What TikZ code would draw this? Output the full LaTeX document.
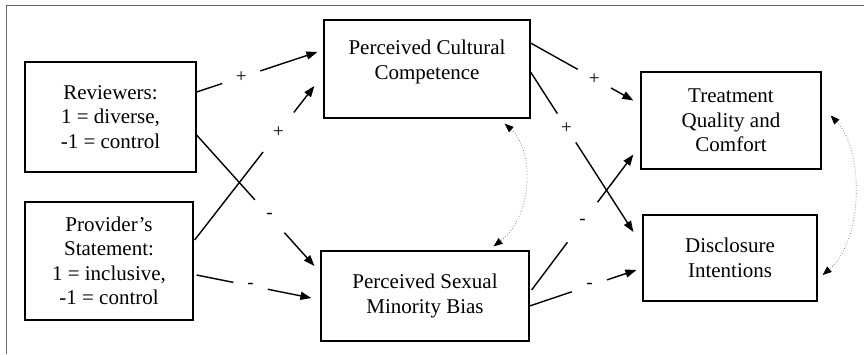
\documentclass[tikz,border=0pt]{standalone}
\usepackage{fontspec}
\setmainfont{Liberation Serif}
\usetikzlibrary{arrows.meta}

\colorlet{frame edge}{black!60}
\colorlet{link dots}{black!55}
\tikzset{
  box/.style={draw=black, line width=1.2pt, align=center, inner sep=0pt,
    font=\fontsize{21}{24.5}\selectfont},
  arrow/.style={draw, line width=1.4pt, -{Triangle[length=11pt,width=8pt]}},
  sign/.style={circle, fill=white, inner sep=0pt, font=\fontsize{19}{19}\selectfont}
  }
\tikzstyle{biarrow}=[draw=link dots, line width=0.7pt, dotted,
  {Triangle[length=9pt,width=7pt,color=black]}-{Triangle[length=9pt,width=7pt,color=black]}]

\begin{document}
\begin{tikzpicture}[x=1pt,y=-1pt]
  \useasboundingbox (0,0) rectangle (864,354);
  \draw[frame edge, line width=1pt] (6,354) -- (6,5) -- (864,5);

  % boxes
  \node[box, minimum width=171pt, minimum height=110pt] (rev) at (110.5,117)
    {Reviewers:\\1 = diverse,\\-1 = control};
  \node[box, minimum width=168pt, minimum height=118pt] (prov) at (109,261)
    {Provider’s\\Statement:\\1 = inclusive,\\-1 = control};
  \node[box, minimum width=206pt, minimum height=98pt, text depth=19pt] (pcc) at (427,69)
    {Perceived Cultural\\Competence};
  \node[box, minimum width=208pt, minimum height=90pt] (psmb) at (425,296)
    {Perceived Sexual\\Minority Bias};
  \node[box, minimum width=180pt, minimum height=97pt] (tqc) at (731,120.5)
    {Treatment\\Quality and\\Comfort};
  \node[box, minimum width=174pt, minimum height=86pt] (disc) at (730,258)
    {Disclosure\\Intentions};

  % paths
  \draw[arrow] ([yshift=25pt]rev.east) -- node[sign, pos=.37, minimum size=40pt] {+}
    ([xshift=-6pt,yshift=17pt]pcc.west);
  \draw[arrow] ([xshift=1pt,yshift=21pt]prov.east) -- node[sign, pos=.70, minimum size=50pt] {+}
    ([xshift=-9pt,yshift=-17pt]pcc.west);
  \draw[arrow] ([yshift=-18pt]rev.east) -- node[sign, pos=.62, minimum size=44pt] {-}
    ([xshift=-6pt,yshift=30pt]psmb.west);
  \draw[arrow] ([xshift=3pt,yshift=-14pt]prov.east) -- node[sign, pos=.47, minimum size=35pt] {-}
    ([xshift=-9pt,yshift=-2pt]psmb.west);
  \draw[arrow] ([yshift=26pt]pcc.east) -- node[sign, pos=.62, minimum size=38pt] {+}
    ([xshift=-7pt,yshift=20pt]tqc.west);
  \draw[arrow] ([yshift=-3pt]pcc.east) -- node[sign, pos=.35, minimum size=34pt] {+}
    ([xshift=-9pt,yshift=26pt]disc.west);
  \draw[arrow] ([xshift=2pt,yshift=6pt]psmb.east) -- node[sign, pos=.50, minimum size=50pt] {-}
    ([xshift=-7pt,yshift=-34pt]tqc.west);
  \draw[arrow] ([yshift=-10pt]psmb.east) -- node[sign, pos=.56, minimum size=37pt] {-}
    ([xshift=-6pt,yshift=-12pt]disc.west);

  % correlations
  \draw[biarrow] ([xshift=-26pt,yshift=-5pt]pcc.south east) .. controls (534,150) and (534,215)
    .. ([xshift=-36pt,yshift=4pt]psmb.north east);
  \draw[biarrow] ([xshift=9pt,yshift=5pt]tqc.east) .. controls (864,150) and (864,240)
    .. ([xshift=5pt,yshift=-17pt]disc.east);
\end{tikzpicture}
\end{document}
